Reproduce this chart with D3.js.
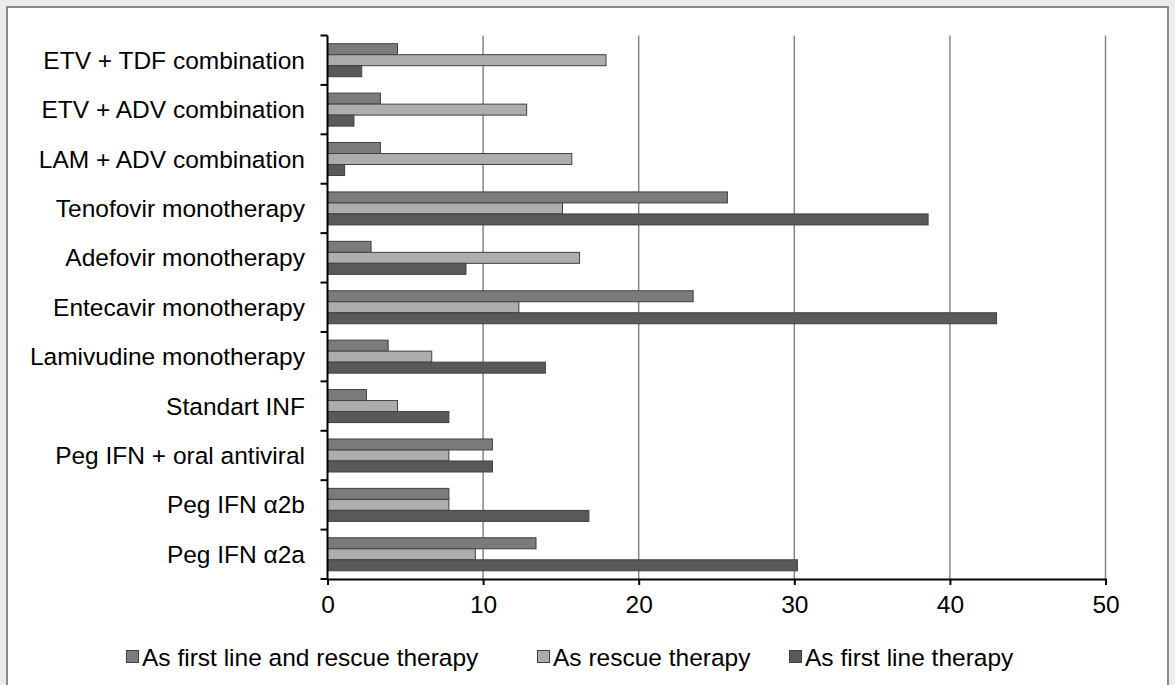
<!DOCTYPE html>
<html>
<head>
<meta charset="utf-8">
<script src="https://cdn.jsdelivr.net/npm/d3@7"></script>
<style>
  body { margin: 0; background: #ececec; }
  svg { display: block; }
</style>
</head>
<body>
<div id="chart"></div>
<script>
(function () {
  // data
  var categories = ["ETV + TDF combination", "ETV + ADV combination", "LAM + ADV combination",
    "Tenofovir monotherapy", "Adefovir monotherapy", "Entecavir monotherapy",
    "Lamivudine monotherapy", "Standart INF", "Peg IFN + oral antiviral",
    "Peg IFN \u03b12b", "Peg IFN \u03b12a"];
  var firstAndRescue = [4.5, 3.4, 3.4, 25.7, 2.8, 23.5, 3.9, 2.5, 10.6, 7.8, 13.4];
  var rescue = [17.9, 12.8, 15.7, 15.1, 16.2, 12.3, 6.7, 4.5, 7.8, 7.8, 9.5];
  var firstLine = [2.2, 1.7, 1.1, 38.6, 8.9, 43.0, 14.0, 7.8, 10.6, 16.8, 30.2];
  var seriesNames = ["As first line and rescue therapy", "As rescue therapy", "As first line therapy"];
  var xTicks = [0, 10, 20, 30, 40, 50];

  var W = 1175, H = 685;
  var colours = {"As first line and rescue therapy": "#7b7b7b",
                 "As rescue therapy": "#adadad",
                 "As first line therapy": "#595959"};
  var font = "'Liberation Sans', Arial, sans-serif";
  var fontSize = "24.5px";

  var svg = d3.select("#chart").append("svg")
    .attr("width", W).attr("height", H);

  // panel
  svg.append("rect")
    .attr("x", 7).attr("y", 7)
    .attr("width", 1161).attr("height", 690)
    .attr("fill", "#fff")
    .attr("stroke", "#8a8a8a")
    .attr("stroke-width", 2);

  var xScale = d3.scaleLinear().domain([0, 50]).range([327.5, 1105.5]);
  var yScale = d3.scaleBand().domain(categories).range([35.5, 579]);
  var inner = d3.scaleBand().domain(seriesNames)
    .range([8.2, yScale.bandwidth() - 8.2]);

  // gridlines
  svg.append("g").selectAll("line")
    .data(xTicks.slice(1))
    .enter().append("line")
      .attr("x1", function(d) { return xScale(d); })
      .attr("x2", function(d) { return xScale(d); })
      .attr("y1", 35.5).attr("y2", 579)
      .attr("stroke", "#878787")
      .attr("stroke-width", 1.5);

  // bars
  var rows = categories.map(function(c, i) {
    return {cat: c, values: [firstAndRescue[i], rescue[i], firstLine[i]]};
  });

  var groups = svg.append("g").selectAll("g")
    .data(rows)
    .enter().append("g")
      .attr("transform", function(d) { return "translate(0," + yScale(d.cat) + ")"; });

  groups.selectAll("rect")
    .data(function(d) {
      return d.values.map(function(v, j) { return {name: seriesNames[j], value: v}; });
    })
    .enter().append("rect")
      .attr("x", xScale(0))
      .attr("y", function(d) { return inner(d.name); })
      .attr("width", function(d) { return xScale(d.value) - xScale(0); })
      .attr("height", inner.bandwidth())
      .attr("fill", function(d) { return colours[d.name]; })
      .attr("stroke", "#404040")
      .attr("stroke-width", 1);

  // y axis
  var yAxis = svg.append("g");
  yAxis.append("line")
    .attr("x1", xScale(0)).attr("x2", xScale(0))
    .attr("y1", 35.5).attr("y2", 579)
    .attr("stroke", "#000").attr("stroke-width", 2);
  yAxis.selectAll(".tick")
    .data(categories.concat(["end"]))
    .enter().append("line")
      .attr("x1", xScale(0) - 7).attr("x2", xScale(0))
      .attr("y1", function(d, i) { return 35.5 + i * yScale.step(); })
      .attr("y2", function(d, i) { return 35.5 + i * yScale.step(); })
      .attr("stroke", "#000").attr("stroke-width", 2);
  yAxis.selectAll("text")
    .data(categories)
    .enter().append("text")
      .attr("x", 305)
      .attr("y", function(d) { return yScale(d) + yScale.bandwidth() / 2; })
      .attr("dy", "0.35em")
      .attr("text-anchor", "end")
      .attr("font-family", font)
      .attr("font-size", fontSize)
      .attr("fill", "#000")
      .text(function(d) { return d; });

  // x axis
  var xAxis = d3.axisBottom(xScale).tickValues(xTicks).tickSize(6).tickPadding(11);
  var gx = svg.append("g")
    .attr("transform", "translate(0,579)")
    .call(xAxis);
  gx.select(".domain").attr("stroke", "#000").attr("stroke-width", 2);
  gx.selectAll(".tick line").attr("stroke", "#000").attr("stroke-width", 2);
  gx.selectAll(".tick text")
    .attr("font-family", font)
    .attr("font-size", fontSize)
    .attr("fill", "#000");

  // legend
  var legendX = [126, 537, 789];
  var legend = svg.append("g").selectAll("g")
    .data(seriesNames)
    .enter().append("g")
      .attr("transform", function(d, i) { return "translate(" + legendX[i] + ",657)"; });
  legend.append("rect")
    .attr("x", 0.5).attr("y", -6.5)
    .attr("width", 12).attr("height", 12)
    .attr("fill", function(d) { return colours[d]; })
    .attr("stroke", "#404040").attr("stroke-width", 1);
  legend.append("text")
    .attr("x", 16).attr("y", 0)
    .attr("dy", "0.35em")
    .attr("font-family", font)
    .attr("font-size", fontSize)
    .attr("fill", "#000")
    .text(function(d) { return d; });
})();
</script>
</body>
</html>
